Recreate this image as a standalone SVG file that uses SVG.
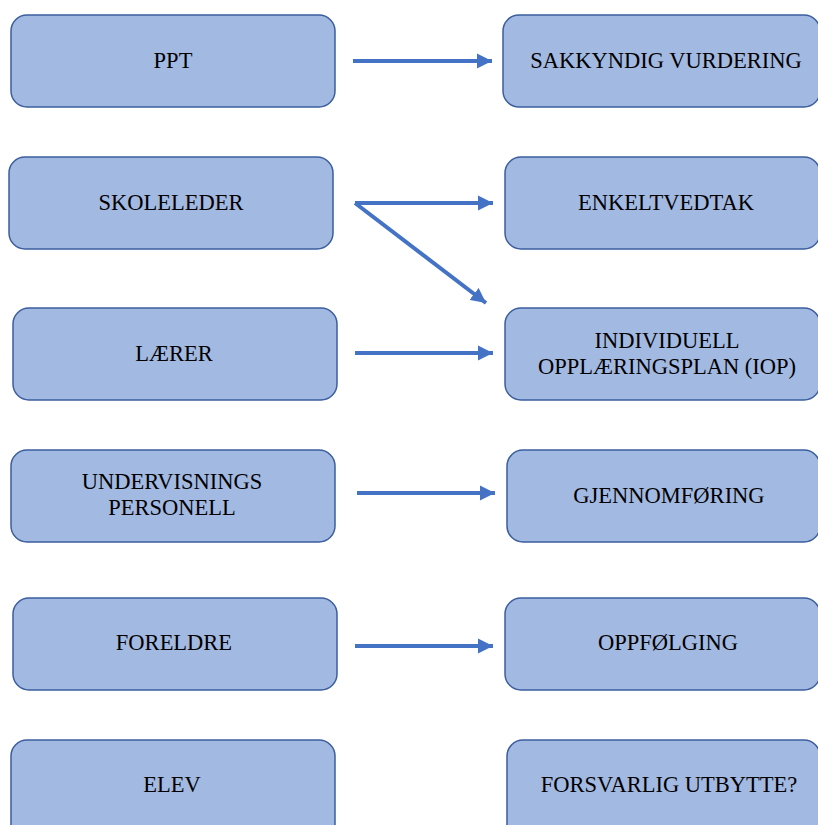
<svg xmlns="http://www.w3.org/2000/svg" width="818" height="825" viewBox="0 0 818 825">
<style>
.box{fill:#A2B9E2;stroke:#3A5E9E;stroke-width:1.5}
.t{font-family:"Liberation Serif","Times New Roman",serif;font-size:22.5px;fill:#000;text-anchor:middle}
.c{stroke:#4472C4;stroke-width:4;fill:none}
</style>
<defs>
<marker id="ah" markerUnits="userSpaceOnUse" markerWidth="16" markerHeight="16" refX="15" refY="7.5" orient="auto" viewBox="0 0 16 15">
<path d="M0,0 L15,7.5 L0,15 z" fill="#4472C4"/>
</marker>
</defs>
<rect width="818" height="825" fill="#fff"/>
<g id="ppt"><rect class="box" x="11" y="15" width="324" height="92" rx="16"/><text class="t" x="173" y="68">PPT</text></g>
<g id="skoleleder"><rect class="box" x="9" y="157" width="324" height="92" rx="16"/><text class="t" x="171" y="210">SKOLELEDER</text></g>
<g id="laerer"><rect class="box" x="13" y="308" width="324" height="92" rx="16"/><text class="t" x="174" y="361">LÆRER</text></g>
<g id="undervisning"><rect class="box" x="11" y="450" width="324" height="92" rx="16"/><text class="t" x="172" y="489">UNDERVISNINGS</text><text class="t" x="172" y="515">PERSONELL</text></g>
<g id="foreldre"><rect class="box" x="13" y="598" width="324" height="92" rx="16"/><text class="t" x="174" y="650">FORELDRE</text></g>
<g id="elev"><rect class="box" x="11" y="740" width="324" height="100" rx="16"/><text class="t" x="172" y="792">ELEV</text></g>
<g id="sakkyndig"><rect class="box" x="503" y="15" width="317" height="92" rx="16"/><text class="t" x="666" y="68">SAKKYNDIG VURDERING</text></g>
<g id="enkeltvedtak"><rect class="box" x="505" y="157" width="315" height="92" rx="16"/><text class="t" x="666" y="210">ENKELTVEDTAK</text></g>
<g id="iop"><rect class="box" x="505" y="308" width="315" height="92" rx="16"/><text class="t" x="667" y="348">INDIVIDUELL</text><text class="t" x="667" y="374">OPPLÆRINGSPLAN (IOP)</text></g>
<g id="gjennomforing"><rect class="box" x="507" y="450" width="313" height="92" rx="16"/><text class="t" x="669" y="503">GJENNOMFØRING</text></g>
<g id="oppfolging"><rect class="box" x="505" y="598" width="315" height="92" rx="16"/><text class="t" x="668" y="650">OPPFØLGING</text></g>
<g id="forsvarlig"><rect class="box" x="507" y="740" width="313" height="100" rx="16"/><text class="t" x="669" y="792">FORSVARLIG UTBYTTE?</text></g>
<g id="connectors">
<line class="c" x1="353" y1="61" x2="492" y2="61" marker-end="url(#ah)"/>
<line class="c" x1="355" y1="203" x2="493" y2="203" marker-end="url(#ah)"/>
<line class="c" x1="355" y1="203" x2="486" y2="303" marker-end="url(#ah)"/>
<line class="c" x1="355" y1="353" x2="493" y2="353" marker-end="url(#ah)"/>
<line class="c" x1="357" y1="493" x2="495" y2="493" marker-end="url(#ah)"/>
<line class="c" x1="355" y1="646" x2="493" y2="646" marker-end="url(#ah)"/>
</g>
</svg>
